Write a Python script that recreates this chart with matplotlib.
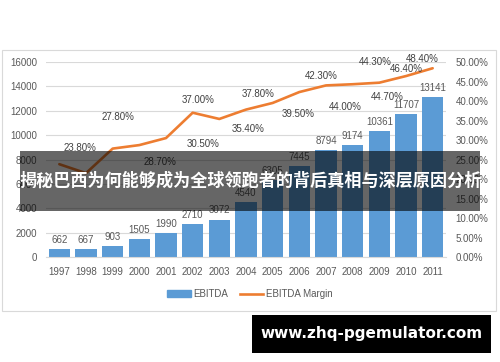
import matplotlib.pyplot as plt
from matplotlib.patches import Rectangle
from matplotlib.ticker import FuncFormatter

# data
years = ["1997", "1998", "1999", "2000", "2001", "2002", "2003", "2004",
         "2005", "2006", "2007", "2008", "2009", "2010", "2011"]
ebitda = [662, 667, 903, 1505, 1990, 2710, 3072, 4540,
          6305, 7445, 8794, 9174, 10361, 11707, 13141]
margin = [23.8, 21.5, 27.8, 28.7, 30.5, 37.0, 35.4, 37.8,
          39.5, 42.3, 44.0, 44.3, 44.7, 46.4, 48.4]
margin_labels = ["23.80%", "27.80%", "28.70%", "37.00%", "30.50%", "37.80%", "35.40%",
                 "39.50%", "42.30%", "44.00%", "44.30%", "44.70%", "46.40%", "48.40%"]
# where the (hand-moved) margin labels sit: (category index, percent)
margin_label_pos = [(0.78, 27.9), (2.21, 36.0), (3.78, 24.3), (5.21, 40.3), (5.40, 29.0),
                    (7.44, 41.7), (7.09, 32.8), (8.96, 36.6), (9.81, 46.4), (10.74, 38.5),
                    (11.84, 50.1), (12.28, 41.1), (13.0, 48.2), (13.60, 50.9)]

title = "揭秘巴西为何能够成为全球领跑者的背后真相与深层原因分析"
site = "www.zhq-pgemulator.com"

BLUE = "#5B9BD5"
ORANGE = "#ED7D31"
GREY = "#595959"
GRID = "#D9D9D9"

plt.rcParams["font.family"] = ["Liberation Sans", "DejaVu Sans"]

fig = plt.figure(figsize=(5, 3.62), dpi=100)
fig.patch.set_facecolor("white")

# chart frame
fig.add_artist(Rectangle((0.004, 0.141), 0.988, 0.721, transform=fig.transFigure,
                         facecolor="none", edgecolor=GRID, linewidth=0.8))

ax = fig.add_axes([0.092, 0.290, 0.800, 0.5387])
x = list(range(len(years)))
ax.bar(x, ebitda, width=0.8, color=BLUE, zorder=2)
for xi, v in zip(x, ebitda):
    ax.annotate(str(v), (xi, v), xytext=(0, 3), textcoords="offset points",
                ha="center", va="bottom", fontsize=7, color=GREY)
ax.set_ylim(0, 16000)
ax.set_yticks(range(0, 16001, 2000))
ax.set_xlim(-0.5, len(years) - 0.5)
ax.set_xticks(x)
ax.set_xticklabels(years)
ax.grid(axis="y", color=GRID, linewidth=0.8, zorder=0)
ax.set_axisbelow(True)
for s in ["top", "right", "left"]:
    ax.spines[s].set_visible(False)
ax.spines["bottom"].set_color(GRID)
ax.tick_params(axis="both", length=0, labelsize=7, labelcolor=GREY)
ax.tick_params(axis="y", pad=6.5)
ax.tick_params(axis="x", pad=7)

ax2 = ax.twinx()
ax2.plot(x, margin, color=ORANGE, linewidth=1.9, solid_capstyle="round", zorder=3)
for txt, (px, py) in zip(margin_labels, margin_label_pos):
    ax2.text(px, py, txt, ha="center", va="center", fontsize=7, color="#404040")
ax2.set_ylim(0, 50)
ax2.set_yticks(range(0, 51, 5))
ax2.yaxis.set_major_formatter(FuncFormatter(lambda v, p: f"{v:.2f}%"))
for s in ax2.spines.values():
    s.set_visible(False)
ax2.tick_params(axis="y", length=0, labelsize=7, labelcolor=GREY, pad=7)

# legend
handles = [Rectangle((0, 0), 1, 1, color=BLUE),
           plt.Line2D([0], [0], color=ORANGE, linewidth=1.9)]
fig.legend(handles, ["EBITDA", "EBITDA Margin"], loc="center", ncol=2,
           bbox_to_anchor=(0.5, 0.188), frameon=False, fontsize=7,
           labelcolor=GREY, handlelength=2.4, handleheight=0.6,
           handletextpad=0.3, columnspacing=1.2)

# overlay banner
fig.add_artist(Rectangle((0.04, 0.417), 0.92, 0.1657, transform=fig.transFigure,
                         facecolor="black", alpha=0.6, edgecolor="none", zorder=10))
fig.text(0.5, 0.5, title, ha="center", va="center", color="white", fontsize=12.3,
         fontweight="bold", family=["Noto Sans CJK SC", "DejaVu Sans"], zorder=11)

# site box
fig.add_artist(Rectangle((0.504, 0.025), 0.478, 0.105, transform=fig.transFigure,
                         facecolor="black", edgecolor="none", zorder=10))
fig.text(0.743, 0.0775, site, ha="center", va="center", color="white", fontsize=11,
         fontweight="bold", family=["DejaVu Sans"], zorder=11)

fig.savefig("out.png", dpi=100)
